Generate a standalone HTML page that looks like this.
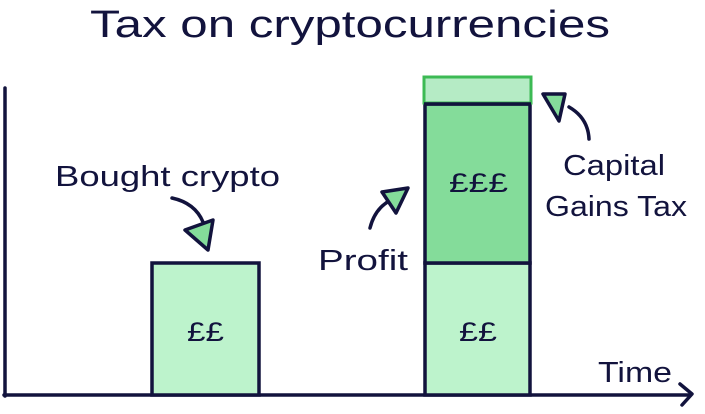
<!DOCTYPE html>
<html><head><style>
body{margin:0;background:#fff;}
svg text{font-family:"Liberation Sans",sans-serif;fill:#12133d;}
</style></head><body>
<svg width="705" height="409" viewBox="0 0 705 409">
<g stroke="#12133d" stroke-width="3.5" fill="none" stroke-linecap="round" stroke-linejoin="round">
<path d="M5 88 L5 396"/>
<path d="M4 395 L690 395"/>
<path d="M680 384 L692 394 L682 405"/>
</g>
<rect x="152" y="263" width="107" height="132" fill="#bdf3cc" stroke="#12133d" stroke-width="3.5"/>
<rect x="425" y="263" width="105" height="132" fill="#bdf3cc" stroke="#12133d" stroke-width="3.5"/>
<rect x="425" y="104" width="105" height="159" fill="#84dc9a" stroke="#12133d" stroke-width="3.5"/>
<rect x="424" y="77" width="107" height="26" fill="#b5ebc5" stroke="#3cba54" stroke-width="3"/>
<line x1="424" y1="104" x2="531" y2="104" stroke="#12133d" stroke-width="3.5"/>
<g stroke="#12133d" stroke-width="3.5" fill="none" stroke-linecap="round" stroke-linejoin="round">
<path d="M172 198 Q195 203 203 222"/>
<path d="M370 228 Q375 208 391 200"/>
<path d="M589 139 Q588 118 569 107"/>
</g>
<g stroke="#12133d" stroke-width="3.5" fill="#84dc9a" stroke-linejoin="round">
<polygon points="185,230 213,220 208,250"/>
<polygon points="382,192 408,188 396,213"/>
<polygon points="543,94 565,94 559,121"/>
</g>
<text x="90" y="37" font-size="38" textLength="520" lengthAdjust="spacingAndGlyphs">Tax on cryptocurrencies</text>
<text x="55" y="186" font-size="29" textLength="225" lengthAdjust="spacingAndGlyphs">Bought crypto</text>
<text x="187" y="341" font-size="27" textLength="37" lengthAdjust="spacingAndGlyphs">££</text>
<text x="459" y="341" font-size="27" textLength="38" lengthAdjust="spacingAndGlyphs">££</text>
<text x="449" y="192" font-size="27" textLength="59" lengthAdjust="spacingAndGlyphs">£££</text>
<text x="318" y="270" font-size="29" textLength="90" lengthAdjust="spacingAndGlyphs">Profit</text>
<text x="563" y="175" font-size="29" textLength="102" lengthAdjust="spacingAndGlyphs">Capital</text>
<text x="545" y="216" font-size="29" textLength="142" lengthAdjust="spacingAndGlyphs">Gains Tax</text>
<text x="598" y="382" font-size="29" textLength="74" lengthAdjust="spacingAndGlyphs">Time</text>
</svg>
</body></html>
